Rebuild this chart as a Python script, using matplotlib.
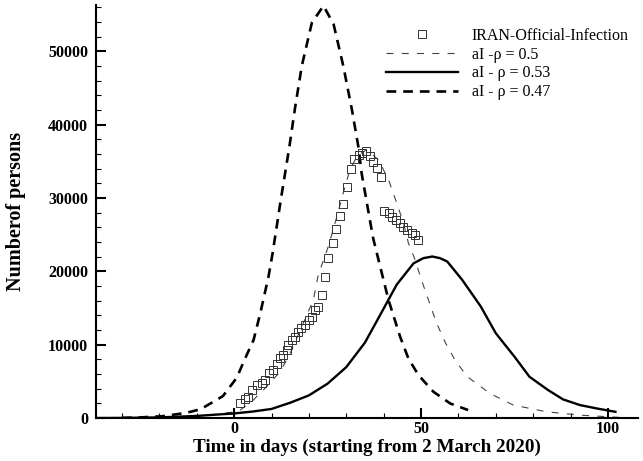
import numpy as np
import matplotlib
matplotlib.use("Agg")
import matplotlib.pyplot as plt
from matplotlib.ticker import MultipleLocator

plt.rcParams['font.family'] = ['Liberation Serif', 'DejaVu Serif']
plt.rcParams['lines.scale_dashes'] = False

## official data
data_days = [1.6, 2.9, 3.8, 4.7, 6.1, 7.4, 8.3, 9.4, 10.5, 11.4, 12.3, 13.2, 14.1, 14.5,
             15.4, 16.3, 17.2, 17.8, 19.0, 19.9, 20.8, 21.7, 22.5, 23.4, 24.3, 25.2, 26.4,
             27.3, 28.2, 29.2, 30.3, 31.2, 32.2, 33.5, 34.1, 35.3, 36.4, 37.2, 38.3, 39.3,
             40.2, 41.3, 42.2, 43.3, 44.4, 45.3, 46.2, 47.5, 48.4, 49.3]
data_vals = [2000, 2550, 2900, 3820, 4500, 4740, 5190, 6100, 6560, 7380, 8150, 8600, 9290, 9970,
             10650, 11100, 11790, 12250, 12700, 13390, 13840, 14750, 15200, 16800, 19200, 21800, 23860,
             25780, 27600, 29200, 31500, 33900, 35300, 35900, 36200, 36400, 35700, 34900, 34100, 32900,
             28200, 27900, 27400, 26950, 26600, 26100, 25700, 25200, 25000, 24300]

## model rho = 0.5
d05 = [-35, -25, -15, -10, -5, 0, 1.6, 5, 8.7, 12.3, 15, 18.5, 21.2, 22.5, 25.2, 27.5, 29.2, 31,
       33, 35.5, 38.6, 41.3, 43.5, 45.3, 46.6, 48.4, 50, 52.4, 54.2, 56.6, 59.1, 62.4, 68.4, 74.7,
       83.6, 92.5, 103, 108]
v05 = [5, 30, 120, 250, 500, 850, 1090, 2400, 4280, 6330, 8840, 12940, 16100, 19500, 23400, 27500,
       30700, 33900, 35800, 36600, 35200, 32500, 29300, 26600, 23900, 21600, 19000, 15500, 12900,
       10200, 7900, 5640, 3370, 1780, 860, 410, 100, 50]

## model rho = 0.53
d053 = [-37, -30, -20, -10, 0, 5, 10, 15, 20, 25, 30, 35, 39, 43.5, 48, 50.6, 53, 55.1, 57, 61,
        66, 70, 75, 79, 84, 88, 92.5, 97, 102]
v053 = [10, 30, 100, 300, 640, 900, 1250, 2100, 3100, 4700, 6950, 10300, 14000, 18200, 21100,
        21800, 22030, 21800, 21350, 18850, 15200, 11570, 8370, 5640, 3820, 2550, 1780, 1320, 860]

## model rho = 0.47
d047 = [-30, -25, -19, -13, -9, -3, 0.7, 3, 5.2, 7, 9.2, 10.3, 12.5, 14.8, 16.3, 18.1, 20.8, 23.9,
        26.6, 29.2, 31.5, 33.3, 34.1, 35.9, 37.2, 39.5, 41.3, 44.4, 46.6, 49.3, 53.3, 57.8, 62.6]
v047 = [30, 100, 270, 700, 1200, 3000, 5500, 8200, 10650, 14300, 19300, 22500, 29800, 37060, 42300,
        48000, 53900, 56200, 53700, 48000, 42070, 36800, 33400, 28200, 24500, 19770, 16100, 11100,
        8150, 5870, 3600, 2000, 1100]

fig = plt.figure(figsize=(6.43, 4.61), dpi=100)
ax = fig.add_axes([0.149, 0.093, 0.843, 0.896])

ax.plot(data_days, data_vals, 's', ms=5.5, mfc='none', mec='#333333', mew=0.7,
        label='IRAN-Official-Infection', zorder=3)
ax.plot(d05, v05, color='#444444', lw=0.8, dashes=(5, 6), label='aI -ρ = 0.5')
ax.plot(d053, v053, color='black', lw=1.7, label='aI - ρ = 0.53')
ax.plot(d047, v047, color='black', lw=1.9, dashes=(7, 5), label='aI - ρ = 0.47')

ax.set_xlim(-37, 108)
ax.set_ylim(0, 56300)
ax.xaxis.set_major_locator(MultipleLocator(50))
ax.xaxis.set_minor_locator(MultipleLocator(10))
ax.yaxis.set_major_locator(MultipleLocator(10000))
ax.yaxis.set_minor_locator(MultipleLocator(2000))

for s in ['top', 'right']:
    ax.spines[s].set_visible(False)
for s in ['left', 'bottom']:
    ax.spines[s].set_linewidth(1.5)

ax.tick_params(which='major', direction='in', length=7, width=1.5, labelsize=11.5)
ax.tick_params(which='minor', direction='in', length=3.5, width=0.8)
ax.tick_params(axis='x', which='major', pad=2)
ax.tick_params(axis='y', which='major', pad=5.5)
for lab in ax.get_xticklabels() + ax.get_yticklabels():
    lab.set_fontweight('bold')

ax.set_xlabel('Time in days (starting from 2 March 2020)', fontsize=13.8, fontweight='bold')
ax.xaxis.set_label_coords(0.5, -0.049)
ax.set_ylabel('Numberof persons', fontsize=14.5, fontweight='bold')
ax.yaxis.set_label_coords(-0.129, 0.5)

ax.legend(loc='upper left', bbox_to_anchor=(0.578, 0.971), bbox_transform=fig.transFigure,
          frameon=False, fontsize=11.5, handlelength=4.5, handletextpad=0.87,
          numpoints=1, labelspacing=0.18)

fig.savefig('out.png', dpi=100)
